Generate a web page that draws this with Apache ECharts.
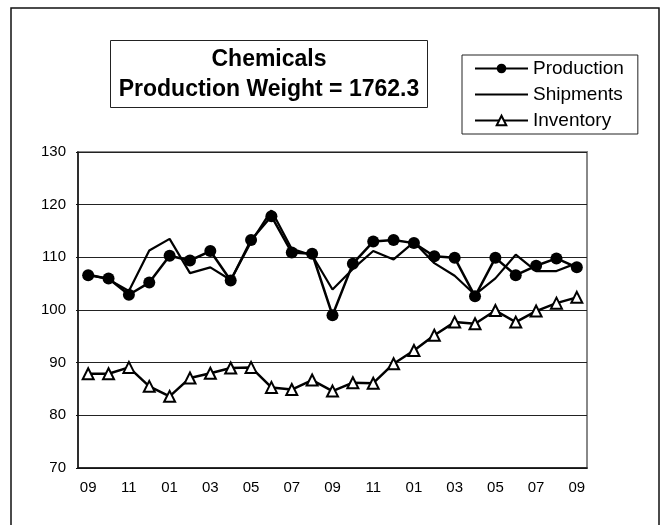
<!DOCTYPE html>
<html>
<head>
<meta charset="utf-8">
<script src="https://cdn.jsdelivr.net/npm/echarts@6/dist/echarts.min.js"></script>
<style>
  html, body { margin: 0; padding: 0; background: #fff; }
  #chart { width: 661px; height: 525px; }
</style>
</head>
<body>
<div id="chart"></div>
<script>
// 月份（2009/09 - 2011/09）
var months = ['09', '10', '11', '12', '01', '02', '03', '04', '05', '06', '07', '08',
  '09', '10', '11', '12', '01', '02', '03', '04', '05', '06', '07', '08', '09'];
var production = [106.6, 106.0, 102.9, 105.2, 110.3, 109.4, 111.2, 105.6, 113.3, 117.8, 110.9, 110.7,
  99.0, 108.8, 113.0, 113.3, 112.7, 110.2, 109.9, 102.6, 109.9, 106.6, 108.4, 109.8, 108.1];
var shipments = [106.8, 105.8, 103.6, 111.3, 113.5, 107.0, 108.1, 105.7, 112.9, 118.9, 111.6, 110.4,
  103.9, 107.8, 111.2, 109.6, 112.9, 108.9, 106.5, 102.9, 106.0, 110.5, 107.4, 107.4, 108.9];
var inventory = [87.9, 87.9, 89.1, 85.5, 83.6, 87.1, 88.0, 89.0, 89.1, 85.3, 84.9, 86.7,
  84.6, 86.2, 86.1, 89.8, 92.3, 95.2, 97.7, 97.4, 99.9, 97.7, 99.8, 101.3, 102.4];
var yMin = 70, yMax = 130, yStep = 10;
var titleLines = ['Chemicals', 'Production Weight = 1762.3'];

var myChart = echarts.init(document.getElementById('chart'));
var font = 'Liberation Sans, Arial, sans-serif';

var option = {
  animation: false,
  backgroundColor: '#fff',
  textStyle: { fontFamily: font },
  // 外框
  graphic: [{
    type: 'rect',
    shape: { x: 11, y: 8, width: 648, height: 600 },
    style: { fill: 'none', stroke: '#111', lineWidth: 1.5 },
    silent: true
  }],
  title: {
    text: titleLines.join('\n'),
    left: 261,   // 文字居中，left 为框的中心
    top: 40,
    textAlign: 'center',
    padding: [5, 8, 3, 8],
    borderColor: '#222',
    borderWidth: 1,
    textStyle: {
      fontFamily: font,
      fontSize: 23,
      fontWeight: 'bold',
      color: '#000',
      lineHeight: 30
    }
  },
  legend: {
    orient: 'vertical',
    left: 462,
    top: 55,
    padding: [4, 14, 4, 12],
    itemGap: 7,
    itemWidth: 53,
    itemHeight: 12,
    borderColor: '#222',
    borderWidth: 1,
    textStyle: { fontFamily: font, fontSize: 19, color: '#000' },
    data: [
      'Production',
      { name: 'Shipments', itemStyle: { opacity: 0 } },
      'Inventory'
    ]
  },
  grid: {
    left: 78,
    right: 74,
    top: 152,
    bottom: 57,
    show: true,
    borderColor: '#888',
    borderWidth: 2
  },
  xAxis: {
    type: 'category',
    data: months,
    boundaryGap: true,
    axisLine: { lineStyle: { color: '#111', width: 1.5 } },
    axisTick: { inside: true, interval: 1, length: 4, lineStyle: { color: '#111' } },
    axisLabel: { interval: 1, margin: 12, fontSize: 15, color: '#000', fontFamily: font }
  },
  yAxis: {
    type: 'value',
    min: yMin,
    max: yMax,
    interval: yStep,
    axisLine: { show: true, lineStyle: { color: '#111', width: 1.5 } },
    axisTick: { show: true, length: 2, lineStyle: { color: '#111' } },
    axisLabel: { margin: 12, fontSize: 15, color: '#000', fontFamily: font },
    splitLine: { lineStyle: { color: '#222', width: 1 } }
  },
  series: [
    {
      name: 'Inventory',
      type: 'line',
      data: inventory,
      symbol: 'triangle',
      symbolSize: 11,
      lineStyle: { color: '#000', width: 2.5 },
      itemStyle: { color: '#fff', borderColor: '#000', borderWidth: 2 }
    },
    {
      name: 'Shipments',
      type: 'line',
      data: shipments,
      symbol: 'none',
      lineStyle: { color: '#000', width: 2.2 },
      itemStyle: { color: '#000' }
    },
    {
      name: 'Production',
      type: 'line',
      data: production,
      symbol: 'circle',
      symbolSize: 12,
      lineStyle: { color: '#000', width: 2.5 },
      itemStyle: { color: '#000' }
    }
  ]
};
myChart.setOption(option);
</script>
</body>
</html>
